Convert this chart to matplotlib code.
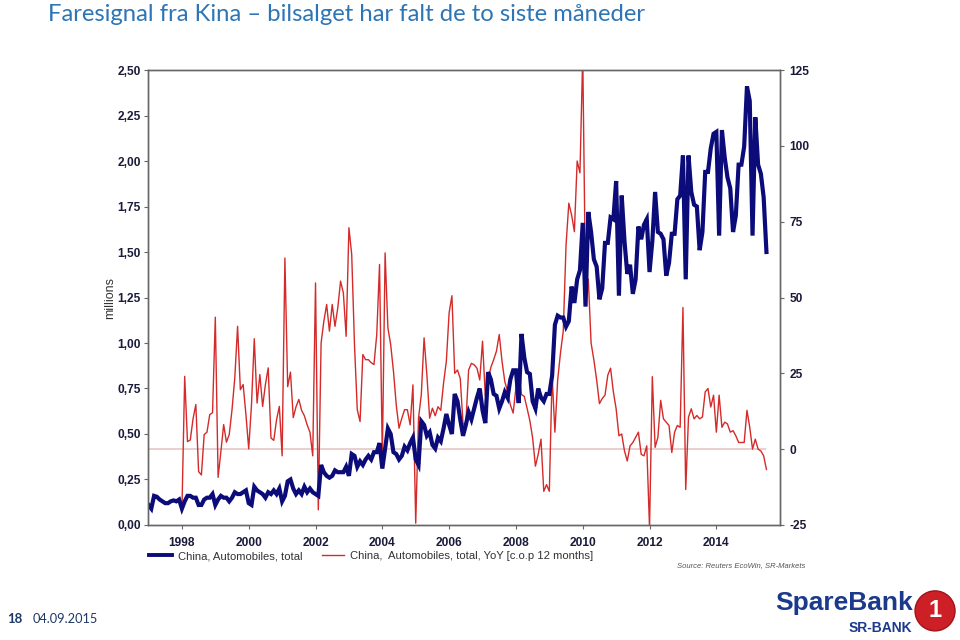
import matplotlib
matplotlib.use("Agg")
import matplotlib.pyplot as plt
from matplotlib.lines import Line2D
from matplotlib.patches import Ellipse
from matplotlib.ticker import FuncFormatter
import numpy as np

plt.rcParams['font.family'] = ['Liberation Sans', 'DejaVu Sans']
plt.rcParams['axes.unicode_minus'] = False

# monthly car sales, millions, Jan 1997 - Jul 2015
sales = [
    0.11, 0.09, 0.16, 0.155, 0.14, 0.13, 0.12, 0.12, 0.13, 0.135, 0.13, 0.14,   # 1997
    0.09, 0.13, 0.16, 0.16, 0.15, 0.15, 0.11, 0.11, 0.14, 0.15, 0.15, 0.17,     # 1998
    0.11, 0.14, 0.16, 0.15, 0.15, 0.13, 0.15, 0.18, 0.17, 0.17, 0.18, 0.19,     # 1999
    0.12, 0.11, 0.21, 0.19, 0.18, 0.17, 0.15, 0.18, 0.17, 0.19, 0.17, 0.20,     # 2000
    0.13, 0.16, 0.24, 0.25, 0.20, 0.17, 0.19, 0.17, 0.21, 0.18, 0.20, 0.18,     # 2001
    0.17, 0.16, 0.33, 0.29, 0.27, 0.26, 0.27, 0.30, 0.29, 0.29, 0.29, 0.32,     # 2002
    0.27, 0.39, 0.38, 0.32, 0.35, 0.33, 0.36, 0.38, 0.36, 0.40, 0.40, 0.45,     # 2003
    0.31, 0.42, 0.53, 0.50, 0.40, 0.39, 0.36, 0.38, 0.43, 0.41, 0.45, 0.48,     # 2004
    0.36, 0.33, 0.57, 0.55, 0.49, 0.51, 0.44, 0.42, 0.48, 0.46, 0.53, 0.61,     # 2005
    0.55, 0.50, 0.72, 0.68, 0.58, 0.49, 0.55, 0.62, 0.58, 0.64, 0.70, 0.75,     # 2006
    0.63, 0.56, 0.84, 0.80, 0.72, 0.71, 0.64, 0.68, 0.73, 0.70, 0.80, 0.85,     # 2007
    0.85, 0.67, 1.05, 0.92, 0.84, 0.83, 0.68, 0.64, 0.75, 0.70, 0.68, 0.72,     # 2008
    0.72, 0.82, 1.10, 1.15, 1.14, 1.14, 1.09, 1.12, 1.31, 1.22, 1.35, 1.40,     # 2009
    1.66, 1.20, 1.72, 1.61, 1.46, 1.42, 1.24, 1.30, 1.55, 1.55, 1.69, 1.68,     # 2010
    1.89, 1.26, 1.81, 1.56, 1.38, 1.43, 1.27, 1.35, 1.64, 1.57, 1.65, 1.68,     # 2011
    1.39, 1.56, 1.83, 1.61, 1.60, 1.57, 1.37, 1.44, 1.60, 1.60, 1.79, 1.81,     # 2012
    2.03, 1.35, 2.03, 1.83, 1.76, 1.75, 1.51, 1.61, 1.94, 1.94, 2.07, 2.15,     # 2013
    2.16, 1.59, 2.17, 2.02, 1.91, 1.85, 1.61, 1.70, 1.98, 1.98, 2.08, 2.41,     # 2014
    2.33, 1.59, 2.24, 1.98, 1.93, 1.80, 1.50,                                   # 2015
]

# YoY change in %, Jan 1998 - Jul 2015
yoy = [
    -20.6, 24, 2.5, 3, 10, 14.7, -7.4, -8.5, 4.8, 5.6, 11.4, 12,            # 1998
    43.5, -9.3, -0.8, 8.1, 2.3, 4.8, 13, 23.5, 40.5, 19.6, 21.3, 11.4,      # 1999
    0.1, 14.7, 36.4, 15.2, 24.6, 14.1, 21.3, 26.8, 3.7, 2.9, 9.7, 14.1,     # 2000
    -2.2, 63, 20.6, 25.4, 10.4, 14, 16.4, 12.8, 11, 8, 5.6, -2.2,           # 2001
    54.8, -20, 35, 42.2, 47.7, 38.9, 47.7, 40.5, 46.6, 55.4, 51.5, 37.2,    # 2002
    73, 64.2, 34.5, 13, 9.1, 31.2, 29.5, 29.5, 28.5, 27.9, 37.8, 60.9,      # 2003
    -3, 64.7, 40, 34.5, 25.7, 14.6, 6.9, 10.2, 13, 13, 8, 21.2,             # 2004
    -24.4, 10.2, 17.9, 36.7, 24.6, 10.2, 13.5, 11, 14, 12.8, 21.8, 29,      # 2005
    45, 50.6, 25, 26.1, 23.3, 8.3, 8.3, 26.1, 28.3, 27.8, 26.7, 22.8,       # 2006
    35.6, 17.5, 22.9, 27, 29.5, 32.3, 37.8, 29, 22.3, 19, 14.6, 11.9,       # 2007
    20.2, 25.1, 18, 17.4, 13.5, 9.4, 3.7, -5.6, -1.7, 3.3, -13.9, -11.7,    # 2008
    -13.9, 24.4, 5.6, 22.8, 31.7, 38.9, 67.2, 81.1, 77.2, 71.7, 95, 91.1,   # 2009
    130, 53.9, 56.1, 35, 29.4, 22.8, 15, 16.7, 17.8, 24.4, 26.7, 18.9,      # 2010
    13.3, 4.4, 5, -0.6, -3.9, 1.1, 2.2, 3.9, 5.6, -1.7, -2.2, 1.1,          # 2011
    -26, 23.9, 0.6, 3.9, 16.1, 10, 8.9, 7.8, -1.1, 5.6, 7.8, 7.2,           # 2012
    46.7, -13.3, 10.6, 13.3, 10, 11.1, 10, 10.6, 18.9, 20, 13.9, 17.8,      # 2013
    5.6, 17.8, 7.2, 8.9, 8.3, 5.6, 6.1, 4.4, 2.2, 2.2, 2.2, 12.8,           # 2014
    7.2, 0, 3.3, 0, -0.6, -2.2, -6.7,                                       # 2015
]

t_sales = 1997 + np.arange(len(sales)) / 12
t_yoy = 1998 + np.arange(len(yoy)) / 12

year_ticks = list(range(1998, 2015, 2))
left_ticks = [0, 0.25, 0.5, 0.75, 1.0, 1.25, 1.5, 1.75, 2.0, 2.25, 2.5]
right_ticks = [-25, 0, 25, 50, 75, 100, 125]

NAVY = '#0b0b7a'
RED = '#d42a2a'
LABEL = '#1a1a3a'
SPINE = '#666666'

fig = plt.figure(figsize=(9.6, 6.4), dpi=100)
ax = fig.add_axes([0.154, 0.1797, 0.6583, 0.7109])
ax2 = ax.twinx()
# red series behind the blue one
ax2.set_zorder(1)
ax.set_zorder(2)
ax.patch.set_visible(False)

ax2.hlines(0, t_yoy[0] - 1, t_yoy[-1], color='#e6c6c6', lw=1.2)
ax2.plot(t_yoy, yoy, color=RED, lw=1.0)
ax.plot(t_sales, sales, color=NAVY, lw=3.0, solid_joinstyle='miter')

ax.set_xlim(1996.98, 2015.90)
ax.set_ylim(0, 2.5)
ax2.set_ylim(-25, 125)

ax.set_xticks(year_ticks)
ax.set_yticks(left_ticks)
ax2.set_yticks(right_ticks)
ax.yaxis.set_major_formatter(FuncFormatter(lambda v, p: f"{v:.2f}".replace('.', ',')))

for a in (ax, ax2):
    for s in a.spines.values():
        s.set_color(SPINE)
        s.set_linewidth(1.0)
    a.tick_params(direction='out', length=3, width=0.8, color=SPINE,
                  labelsize=8.6, labelcolor=LABEL, pad=2)
for lab in ax.get_xticklabels() + ax.get_yticklabels() + ax2.get_yticklabels():
    lab.set_fontweight('bold')
ax.tick_params(axis='x', pad=6)
ax2.tick_params(axis='y', pad=4)

ax.set_ylabel('millions', fontsize=9, color='#333333', labelpad=1)

handles = [Line2D([], [], color=NAVY, lw=2.8), Line2D([], [], color=RED, lw=1.0)]
labels = ['China, Automobiles, total', 'China,  Automobiles, total, YoY [c.o.p 12 months]']
fig.legend(handles, labels, loc='center left', bbox_to_anchor=(0.145, 0.131), ncol=2,
           frameon=False, fontsize=8.1, handlelength=2.0, handletextpad=0.55,
           columnspacing=1.7, labelcolor='#333333')

fig.text(0.839, 0.116, 'Source: Reuters EcoWin, SR-Markets', fontsize=5.5, style='italic',
         color='#555555', ha='right', va='center')

fig.text(0.05, 0.978, 'Faresignal fra Kina \u2013 bilsalget har falt de to siste m\u00e5neder',
         fontsize=17.2, color='#2e75b6', ha='left', va='center', family=['Lato', 'DejaVu Sans'])

fig.text(0.008, 0.033, '18', fontsize=9.5, fontweight='bold', color='#1f3864',
         ha='left', va='center', family=['Lato', 'DejaVu Sans'])
fig.text(0.034, 0.033, '04.09.2015', fontsize=9.2, color='#1f3864',
         ha='left', va='center', family=['Lato', 'DejaVu Sans'])

# logo
fig.text(0.951, 0.058, 'SpareBank', fontsize=19, fontweight='bold', color='#1c3a8c',
         ha='right', va='center')
fig.text(0.950, 0.0185, 'SR-BANK', fontsize=10, fontweight='bold', color='#1c3a8c',
         ha='right', va='center')
fig.add_artist(Ellipse((0.974, 0.0455), 40 / 960, 40 / 640, transform=fig.transFigure,
                       facecolor='#cc1f26', edgecolor='#a0141a', lw=1))
fig.text(0.974, 0.0455, '1', fontsize=17, fontweight='bold', color='white',
         ha='center', va='center')

fig.savefig('out.png', dpi=100)
